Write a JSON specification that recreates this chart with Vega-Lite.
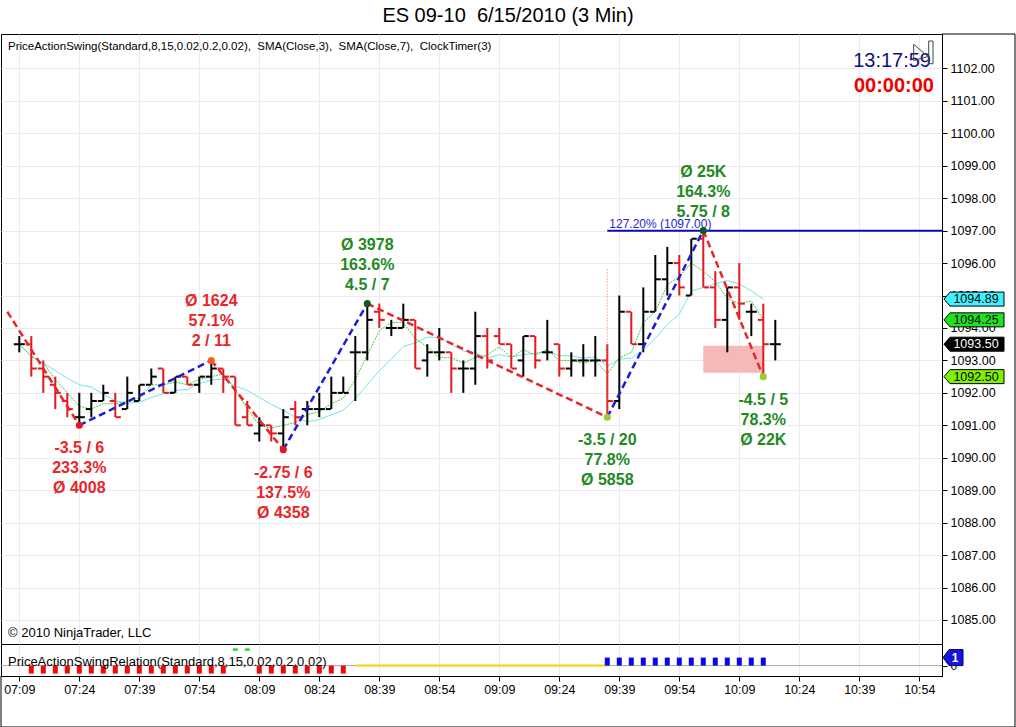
{
  "$schema": "https://vega.github.io/schema/vega-lite/v6.json",
  "background": "white",
  "padding": {"left": 0, "top": 6, "right": 0, "bottom": 0},
  "title": {"text": "ES 09-10\u00a0 6/15/2010 (3 Min)", "fontSize": 20, "fontWeight": "normal", "anchor": "middle", "offset": 7, "color": "black"},
  "spacing": 0,
  "bounds": "flush",
  "config": {
    "font": "Liberation Sans",
    "view": {"stroke": "black", "strokeWidth": 1},
    "axis": {"labelOverlap": false, "labelFlush": false}
  },
  "datasets": {
    "bars": [
      {"t":"2010-06-15T07:09","o":1093.5,"h":1093.75,"l":1093.25,"c":1093.5},
      {"t":"2010-06-15T07:12","o":1093.5,"h":1093.75,"l":1092.5,"c":1092.75},
      {"t":"2010-06-15T07:15","o":1092.75,"h":1093.0,"l":1092.0,"c":1092.5},
      {"t":"2010-06-15T07:18","o":1092.25,"h":1092.5,"l":1091.5,"c":1092.0},
      {"t":"2010-06-15T07:21","o":1091.75,"h":1092.0,"l":1091.25,"c":1091.5},
      {"t":"2010-06-15T07:24","o":1091.25,"h":1092.0,"l":1091.0,"c":1091.25},
      {"t":"2010-06-15T07:27","o":1091.5,"h":1092.0,"l":1091.25,"c":1091.75},
      {"t":"2010-06-15T07:30","o":1091.75,"h":1092.25,"l":1091.75,"c":1092.0},
      {"t":"2010-06-15T07:33","o":1091.75,"h":1092.0,"l":1091.25,"c":1091.25},
      {"t":"2010-06-15T07:36","o":1091.5,"h":1092.5,"l":1091.5,"c":1092.0},
      {"t":"2010-06-15T07:39","o":1091.75,"h":1092.25,"l":1091.75,"c":1092.25},
      {"t":"2010-06-15T07:42","o":1092.25,"h":1092.75,"l":1092.25,"c":1092.5},
      {"t":"2010-06-15T07:45","o":1092.75,"h":1092.75,"l":1092.0,"c":1092.0},
      {"t":"2010-06-15T07:48","o":1092.0,"h":1092.5,"l":1092.0,"c":1092.5},
      {"t":"2010-06-15T07:51","o":1092.5,"h":1092.5,"l":1092.25,"c":1092.25},
      {"t":"2010-06-15T07:54","o":1092.25,"h":1092.5,"l":1092.0,"c":1092.5},
      {"t":"2010-06-15T07:57","o":1092.5,"h":1093.0,"l":1092.25,"c":1092.75},
      {"t":"2010-06-15T08:00","o":1092.75,"h":1092.75,"l":1092.0,"c":1092.5},
      {"t":"2010-06-15T08:03","o":1092.5,"h":1092.5,"l":1091.0,"c":1091.0},
      {"t":"2010-06-15T08:06","o":1091.25,"h":1091.75,"l":1091.0,"c":1091.0},
      {"t":"2010-06-15T08:09","o":1090.75,"h":1091.25,"l":1090.5,"c":1091.0},
      {"t":"2010-06-15T08:12","o":1091.0,"h":1091.0,"l":1090.5,"c":1090.75},
      {"t":"2010-06-15T08:15","o":1090.75,"h":1091.5,"l":1090.25,"c":1091.25},
      {"t":"2010-06-15T08:18","o":1091.5,"h":1091.75,"l":1091.0,"c":1091.25},
      {"t":"2010-06-15T08:21","o":1091.5,"h":1091.75,"l":1091.0,"c":1091.5},
      {"t":"2010-06-15T08:24","o":1091.5,"h":1092.0,"l":1091.25,"c":1091.5},
      {"t":"2010-06-15T08:27","o":1091.5,"h":1092.5,"l":1091.5,"c":1092.0},
      {"t":"2010-06-15T08:30","o":1092.0,"h":1092.5,"l":1092.0,"c":1092.0},
      {"t":"2010-06-15T08:33","o":1093.25,"h":1093.75,"l":1091.75,"c":1093.25},
      {"t":"2010-06-15T08:36","o":1093.25,"h":1094.75,"l":1093.0,"c":1094.25},
      {"t":"2010-06-15T08:39","o":1094.5,"h":1094.75,"l":1094.0,"c":1094.25},
      {"t":"2010-06-15T08:42","o":1094.0,"h":1094.25,"l":1093.75,"c":1094.0},
      {"t":"2010-06-15T08:45","o":1094.0,"h":1094.75,"l":1094.0,"c":1094.25},
      {"t":"2010-06-15T08:48","o":1094.25,"h":1094.25,"l":1092.75,"c":1092.75},
      {"t":"2010-06-15T08:51","o":1093.0,"h":1093.5,"l":1092.5,"c":1093.25},
      {"t":"2010-06-15T08:54","o":1093.25,"h":1094.0,"l":1093.0,"c":1093.25},
      {"t":"2010-06-15T08:57","o":1093.25,"h":1093.25,"l":1092.0,"c":1092.75},
      {"t":"2010-06-15T09:00","o":1092.75,"h":1093.0,"l":1092.0,"c":1092.75},
      {"t":"2010-06-15T09:03","o":1092.75,"h":1094.5,"l":1092.25,"c":1093.75},
      {"t":"2010-06-15T09:06","o":1093.75,"h":1094.0,"l":1092.75,"c":1093.0},
      {"t":"2010-06-15T09:09","o":1093.75,"h":1094.0,"l":1093.5,"c":1093.5},
      {"t":"2010-06-15T09:12","o":1093.5,"h":1093.5,"l":1092.75,"c":1092.75},
      {"t":"2010-06-15T09:15","o":1093.0,"h":1093.75,"l":1092.5,"c":1093.75},
      {"t":"2010-06-15T09:18","o":1093.75,"h":1093.75,"l":1092.75,"c":1093.0},
      {"t":"2010-06-15T09:21","o":1093.25,"h":1094.25,"l":1093.0,"c":1093.25},
      {"t":"2010-06-15T09:24","o":1093.5,"h":1093.5,"l":1092.5,"c":1092.75},
      {"t":"2010-06-15T09:27","o":1092.75,"h":1093.25,"l":1092.5,"c":1093.0},
      {"t":"2010-06-15T09:30","o":1093.0,"h":1093.5,"l":1092.5,"c":1093.0},
      {"t":"2010-06-15T09:33","o":1093.0,"h":1093.75,"l":1092.5,"c":1093.0},
      {"t":"2010-06-15T09:36","o":1093.0,"h":1093.5,"l":1091.25,"c":1091.75},
      {"t":"2010-06-15T09:39","o":1091.75,"h":1095.0,"l":1091.5,"c":1094.5},
      {"t":"2010-06-15T09:42","o":1094.5,"h":1094.5,"l":1093.5,"c":1093.5},
      {"t":"2010-06-15T09:45","o":1093.5,"h":1095.25,"l":1093.25,"c":1094.5},
      {"t":"2010-06-15T09:48","o":1094.5,"h":1096.25,"l":1094.5,"c":1095.5},
      {"t":"2010-06-15T09:51","o":1095.5,"h":1096.5,"l":1095.0,"c":1096.0},
      {"t":"2010-06-15T09:54","o":1096.0,"h":1096.25,"l":1095.0,"c":1095.25},
      {"t":"2010-06-15T09:57","o":1095.0,"h":1096.75,"l":1095.0,"c":1096.75},
      {"t":"2010-06-15T10:00","o":1096.75,"h":1097.0,"l":1095.25,"c":1095.25},
      {"t":"2010-06-15T10:03","o":1095.25,"h":1095.75,"l":1094.0,"c":1094.25},
      {"t":"2010-06-15T10:06","o":1094.25,"h":1095.25,"l":1093.25,"c":1095.25},
      {"t":"2010-06-15T10:09","o":1095.25,"h":1096.0,"l":1094.25,"c":1094.75},
      {"t":"2010-06-15T10:12","o":1094.5,"h":1094.75,"l":1093.75,"c":1094.5},
      {"t":"2010-06-15T10:15","o":1094.25,"h":1094.75,"l":1092.5,"c":1093.5},
      {"t":"2010-06-15T10:18","o":1093.5,"h":1094.25,"l":1093.0,"c":1093.5}
    ],
    "legs": [
      {"leg":1,"dir":"down","t":"2010-06-15T07:06","p":1094.5},
      {"leg":1,"dir":"down","t":"2010-06-15T07:24","p":1091.0},
      {"leg":2,"dir":"up","t":"2010-06-15T07:24","p":1091.0},
      {"leg":2,"dir":"up","t":"2010-06-15T07:57","p":1093.0},
      {"leg":3,"dir":"down","t":"2010-06-15T07:57","p":1093.0},
      {"leg":3,"dir":"down","t":"2010-06-15T08:15","p":1090.25},
      {"leg":4,"dir":"up","t":"2010-06-15T08:15","p":1090.25},
      {"leg":4,"dir":"up","t":"2010-06-15T08:36","p":1094.75},
      {"leg":5,"dir":"down","t":"2010-06-15T08:36","p":1094.75},
      {"leg":5,"dir":"down","t":"2010-06-15T09:36","p":1091.25},
      {"leg":6,"dir":"up","t":"2010-06-15T09:36","p":1091.25},
      {"leg":6,"dir":"up","t":"2010-06-15T10:00","p":1097.0},
      {"leg":7,"dir":"down","t":"2010-06-15T10:00","p":1097.0},
      {"leg":7,"dir":"down","t":"2010-06-15T10:15","p":1092.5}
    ],
    "pivots": [
      {"t":"2010-06-15T07:24","p":1091.0,"kind":"LL","side":"low","label":["-3.5 / 6","233.3%","Ø 4008"]},
      {"t":"2010-06-15T07:57","p":1093.0,"kind":"LH","side":"high","label":["Ø 1624","57.1%","2 / 11"]},
      {"t":"2010-06-15T08:15","p":1090.25,"kind":"LL","side":"low","label":["-2.75 / 6","137.5%","Ø 4358"]},
      {"t":"2010-06-15T08:36","p":1094.75,"kind":"HH","side":"high","label":["Ø 3978","163.6%","4.5 / 7"]},
      {"t":"2010-06-15T09:36","p":1091.25,"kind":"HL","side":"low","label":["-3.5 / 20","77.8%","Ø 5858"]},
      {"t":"2010-06-15T10:00","p":1097.0,"kind":"HH","side":"high","label":["Ø 25K","164.3%","5.75 / 8"]},
      {"t":"2010-06-15T10:15","p":1092.5,"kind":"HL","side":"low","label":["-4.5 / 5","78.3%","Ø 22K"]}
    ],
    "tags": [
      {"kind":"sma7","p":1094.89},
      {"kind":"sma3","p":1094.25},
      {"kind":"last","p":1093.5},
      {"kind":"swing","p":1092.5}
    ],
    "relation": [
      {"t":"2010-06-15T07:12","v":-1,"kind":"down"},
      {"t":"2010-06-15T07:15","v":-1,"kind":"down"},
      {"t":"2010-06-15T07:18","v":-1,"kind":"down"},
      {"t":"2010-06-15T07:21","v":-1,"kind":"down"},
      {"t":"2010-06-15T07:24","v":-1,"kind":"down"},
      {"t":"2010-06-15T07:27","v":-1,"kind":"down"},
      {"t":"2010-06-15T07:30","v":-1,"kind":"down"},
      {"t":"2010-06-15T07:33","v":-1,"kind":"down"},
      {"t":"2010-06-15T07:36","v":-1,"kind":"down"},
      {"t":"2010-06-15T07:39","v":-1,"kind":"down"},
      {"t":"2010-06-15T07:42","v":-1,"kind":"down"},
      {"t":"2010-06-15T07:45","v":-1,"kind":"down"},
      {"t":"2010-06-15T07:48","v":-1,"kind":"down"},
      {"t":"2010-06-15T07:51","v":-1,"kind":"down"},
      {"t":"2010-06-15T07:54","v":-1,"kind":"down"},
      {"t":"2010-06-15T07:57","v":-1,"kind":"down"},
      {"t":"2010-06-15T08:00","v":-1,"kind":"down"},
      {"t":"2010-06-15T08:03","v":2,"kind":"swing"},
      {"t":"2010-06-15T08:06","v":2,"kind":"swing"},
      {"t":"2010-06-15T08:09","v":-1,"kind":"down"},
      {"t":"2010-06-15T08:12","v":-1,"kind":"down"},
      {"t":"2010-06-15T08:15","v":-1,"kind":"down"},
      {"t":"2010-06-15T08:18","v":-1,"kind":"down"},
      {"t":"2010-06-15T08:21","v":-1,"kind":"down"},
      {"t":"2010-06-15T08:24","v":-1,"kind":"down"},
      {"t":"2010-06-15T08:27","v":-1,"kind":"down"},
      {"t":"2010-06-15T08:30","v":-1,"kind":"down"},
      {"t":"2010-06-15T08:33","v":0,"kind":"flat"},
      {"t":"2010-06-15T08:36","v":0,"kind":"flat"},
      {"t":"2010-06-15T08:39","v":0,"kind":"flat"},
      {"t":"2010-06-15T08:42","v":0,"kind":"flat"},
      {"t":"2010-06-15T08:45","v":0,"kind":"flat"},
      {"t":"2010-06-15T08:48","v":0,"kind":"flat"},
      {"t":"2010-06-15T08:51","v":0,"kind":"flat"},
      {"t":"2010-06-15T08:54","v":0,"kind":"flat"},
      {"t":"2010-06-15T08:57","v":0,"kind":"flat"},
      {"t":"2010-06-15T09:00","v":0,"kind":"flat"},
      {"t":"2010-06-15T09:03","v":0,"kind":"flat"},
      {"t":"2010-06-15T09:06","v":0,"kind":"flat"},
      {"t":"2010-06-15T09:09","v":0,"kind":"flat"},
      {"t":"2010-06-15T09:12","v":0,"kind":"flat"},
      {"t":"2010-06-15T09:15","v":0,"kind":"flat"},
      {"t":"2010-06-15T09:18","v":0,"kind":"flat"},
      {"t":"2010-06-15T09:21","v":0,"kind":"flat"},
      {"t":"2010-06-15T09:24","v":0,"kind":"flat"},
      {"t":"2010-06-15T09:27","v":0,"kind":"flat"},
      {"t":"2010-06-15T09:30","v":0,"kind":"flat"},
      {"t":"2010-06-15T09:33","v":0,"kind":"flat"},
      {"t":"2010-06-15T09:36","v":0,"kind":"flat"},
      {"t":"2010-06-15T09:36","v":1,"kind":"up"},
      {"t":"2010-06-15T09:39","v":1,"kind":"up"},
      {"t":"2010-06-15T09:42","v":1,"kind":"up"},
      {"t":"2010-06-15T09:45","v":1,"kind":"up"},
      {"t":"2010-06-15T09:48","v":1,"kind":"up"},
      {"t":"2010-06-15T09:51","v":1,"kind":"up"},
      {"t":"2010-06-15T09:54","v":1,"kind":"up"},
      {"t":"2010-06-15T09:57","v":1,"kind":"up"},
      {"t":"2010-06-15T10:00","v":1,"kind":"up"},
      {"t":"2010-06-15T10:03","v":1,"kind":"up"},
      {"t":"2010-06-15T10:06","v":1,"kind":"up"},
      {"t":"2010-06-15T10:09","v":1,"kind":"up"},
      {"t":"2010-06-15T10:12","v":1,"kind":"up"},
      {"t":"2010-06-15T10:15","v":1,"kind":"up"}
    ]
  },
  "vconcat": [
    {
      "width": 941,
      "height": 610,
      "layer": [
        {
          "data": {"values": [{}]},
          "mark": {"type": "rect", "fill": "#f6b9b9"},
          "encoding": {
            "x": {"datum": {"year":2010,"month":6,"date":15,"hours":10,"minutes":0}, "type": "temporal"},
            "x2": {"datum": {"year":2010,"month":6,"date":15,"hours":10,"minutes":15}},
            "y": {"datum": 1093.45, "type": "quantitative"},
            "y2": {"datum": 1092.62}
          }
        },
        {
          "data": {"name": "bars"},
          "transform": [
            {"filter": {"field": "t", "lt": {"year":2010,"month":6,"date":15,"hours":10,"minutes":18}}},
            {"window": [{"op": "mean", "field": "c", "as": "sma7"}], "frame": [-6, 0], "sort": [{"field": "t"}]}
          ],
          "mark": {"type": "line", "color": "#72e3e6", "strokeWidth": 1},
          "encoding": {
            "x": {"field": "t", "type": "temporal"},
            "y": {"field": "sma7", "type": "quantitative"}
          }
        },
        {
          "data": {"name": "bars"},
          "transform": [
            {"filter": {"field": "t", "lt": {"year":2010,"month":6,"date":15,"hours":10,"minutes":18}}},
            {"window": [{"op": "mean", "field": "c", "as": "sma3"}], "frame": [-2, 0], "sort": [{"field": "t"}]}
          ],
          "mark": {"type": "line", "color": "#3fcf3f", "strokeWidth": 1, "strokeDash": [2, 1]},
          "encoding": {
            "x": {"field": "t", "type": "temporal"},
            "y": {"field": "sma3", "type": "quantitative"}
          }
        },
        {
          "data": {"name": "bars"},
          "mark": {"type": "rule", "strokeWidth": 2},
          "encoding": {
            "x": {
              "field": "t", "type": "temporal",
              "scale": {"domain": [{"year":2010,"month":6,"date":15,"hours":7,"minutes":4,"seconds":25,"milliseconds":500}, {"year":2010,"month":6,"date":15,"hours":10,"minutes":59,"seconds":40,"milliseconds":500}], "nice": false},
              "axis": {
                "values": [
                  {"year":2010,"month":6,"date":15,"hours":7,"minutes":9},
                  {"year":2010,"month":6,"date":15,"hours":7,"minutes":24},
                  {"year":2010,"month":6,"date":15,"hours":7,"minutes":39},
                  {"year":2010,"month":6,"date":15,"hours":7,"minutes":54},
                  {"year":2010,"month":6,"date":15,"hours":8,"minutes":9},
                  {"year":2010,"month":6,"date":15,"hours":8,"minutes":24},
                  {"year":2010,"month":6,"date":15,"hours":8,"minutes":39},
                  {"year":2010,"month":6,"date":15,"hours":8,"minutes":54},
                  {"year":2010,"month":6,"date":15,"hours":9,"minutes":9},
                  {"year":2010,"month":6,"date":15,"hours":9,"minutes":24},
                  {"year":2010,"month":6,"date":15,"hours":9,"minutes":39},
                  {"year":2010,"month":6,"date":15,"hours":9,"minutes":54},
                  {"year":2010,"month":6,"date":15,"hours":10,"minutes":9},
                  {"year":2010,"month":6,"date":15,"hours":10,"minutes":24},
                  {"year":2010,"month":6,"date":15,"hours":10,"minutes":39},
                  {"year":2010,"month":6,"date":15,"hours":10,"minutes":54}
                ],
                "tickCount": 40,
                "labels": false, "ticks": false, "domain": false, "grid": true, "gridColor": "#ebebeb", "title": null
              }
            },
            "y": {
              "field": "l", "type": "quantitative",
              "scale": {"domain": [1084.26, 1103.06], "nice": false, "zero": false},
              "axis": {
                "orient": "right",
                "values": [1085,1086,1087,1088,1089,1090,1091,1092,1093,1094,1095,1096,1097,1098,1099,1100,1101,1102],
                "tickCount": 40,
                "format": ".2f", "title": null, "grid": true, "gridColor": "#ebebeb",
                "labelFontSize": 12.5, "labelColor": "black", "tickColor": "black", "tickSize": 5,
                "domainColor": "black", "labelPadding": 3, "labelFlush": false, "labelOverlap": false
              }
            },
            "y2": {"field": "h"},
            "color": {"condition": {"test": "datum.c < datum.o", "value": "#e3171d"}, "value": "black"}
          }
        },
        {
          "data": {"name": "bars"},
          "mark": {"type": "tick", "orient": "horizontal", "size": 5, "thickness": 2, "xOffset": -3, "opacity": 1},
          "encoding": {
            "x": {"field": "t", "type": "temporal"},
            "y": {"field": "o", "type": "quantitative"},
            "color": {"condition": {"test": "datum.c < datum.o", "value": "#e3171d"}, "value": "black"}
          }
        },
        {
          "data": {"name": "bars"},
          "mark": {"type": "tick", "orient": "horizontal", "size": 5, "thickness": 2, "xOffset": 3, "opacity": 1},
          "encoding": {
            "x": {"field": "t", "type": "temporal"},
            "y": {"field": "c", "type": "quantitative"},
            "color": {"condition": {"test": "datum.c < datum.o", "value": "#e3171d"}, "value": "black"}
          }
        },
        {
          "data": {"values": [{}]},
          "mark": {"type": "rule", "color": "#ff7048", "strokeWidth": 1, "strokeDash": [1, 2]},
          "encoding": {
            "x": {"datum": {"year":2010,"month":6,"date":15,"hours":9,"minutes":36}, "type": "temporal"},
            "y": {"datum": 1095.8, "type": "quantitative"},
            "y2": {"datum": 1091.25}
          }
        },
        {
          "data": {"name": "legs"},
          "mark": {"type": "line", "strokeWidth": 2.5, "strokeDash": [7, 4]},
          "encoding": {
            "x": {"field": "t", "type": "temporal"},
            "y": {"field": "p", "type": "quantitative"},
            "detail": {"field": "leg"},
            "color": {"condition": {"test": "datum.dir === 'up'", "value": "#1c1cd6"}, "value": "#e8262a"}
          }
        },
        {
          "data": {"values": [{}]},
          "mark": {"type": "rule", "color": "#0a0ab4", "strokeWidth": 2},
          "encoding": {
            "x": {"datum": {"year":2010,"month":6,"date":15,"hours":9,"minutes":36}, "type": "temporal"},
            "x2": {"datum": {"year":2010,"month":6,"date":15,"hours":10,"minutes":59,"seconds":40,"milliseconds":500}},
            "y": {"datum": 1097.0, "type": "quantitative"}
          }
        },
        {
          "data": {"values": [{}]},
          "mark": {"type": "text", "text": "127.20% (1097.00)", "align": "left", "baseline": "alphabetic", "dx": 2, "dy": -3, "fontSize": 12, "color": "#2424d4"},
          "encoding": {
            "x": {"datum": {"year":2010,"month":6,"date":15,"hours":9,"minutes":36}, "type": "temporal"},
            "y": {"datum": 1097.0, "type": "quantitative"}
          }
        },
        {
          "data": {"name": "pivots"},
          "mark": {"type": "point", "filled": true, "size": 50, "opacity": 1},
          "encoding": {
            "x": {"field": "t", "type": "temporal"},
            "y": {"field": "p", "type": "quantitative"},
            "color": {
              "condition": [
                {"test": "datum.kind === 'LL'", "value": "#e8141c"},
                {"test": "datum.kind === 'LH'", "value": "#ff5a1e"},
                {"test": "datum.kind === 'HH'", "value": "#0b5d1e"}
              ],
              "value": "#9acd32"
            }
          }
        },
        {
          "data": {"name": "pivots"},
          "transform": [{"filter": "datum.side === 'high'"}],
          "mark": {"type": "text", "align": "center", "baseline": "top", "dy": -67, "fontSize": 16, "fontWeight": "bold", "lineHeight": 20},
          "encoding": {
            "x": {"field": "t", "type": "temporal"},
            "y": {"field": "p", "type": "quantitative"},
            "text": {"field": "label"},
            "color": {"condition": {"test": "datum.kind === 'HH' || datum.kind === 'HL'", "value": "#1f8a1f"}, "value": "#e8262a"}
          }
        },
        {
          "data": {"name": "pivots"},
          "transform": [{"filter": "datum.side === 'low'"}],
          "mark": {"type": "text", "align": "center", "baseline": "top", "dy": 15, "fontSize": 16, "fontWeight": "bold", "lineHeight": 20},
          "encoding": {
            "x": {"field": "t", "type": "temporal"},
            "y": {"field": "p", "type": "quantitative"},
            "text": {"field": "label"},
            "color": {"condition": {"test": "datum.kind === 'HH' || datum.kind === 'HL'", "value": "#1f8a1f"}, "value": "#e8262a"}
          }
        },
        {
          "data": {"name": "tags"},
          "mark": {"type": "point", "shape": "M-1,0L-0.8,-0.2333L1,-0.2333L1,0.2333L-0.8,0.2333Z", "size": 3600, "filled": true, "stroke": "black", "strokeWidth": 1, "opacity": 1, "xOffset": 32},
          "encoding": {
            "x": {"datum": {"year":2010,"month":6,"date":15,"hours":10,"minutes":59,"seconds":40,"milliseconds":500}, "type": "temporal"},
            "y": {"field": "p", "type": "quantitative"},
            "fill": {
              "condition": [
                {"test": "datum.kind === 'sma7'", "value": "#40f2ff"},
                {"test": "datum.kind === 'sma3'", "value": "#1ee41e"},
                {"test": "datum.kind === 'last'", "value": "black"}
              ],
              "value": "#80f000"
            }
          }
        },
        {
          "data": {"name": "tags"},
          "mark": {"type": "text", "align": "center", "baseline": "middle", "dx": 34, "fontSize": 12.5},
          "encoding": {
            "x": {"datum": {"year":2010,"month":6,"date":15,"hours":10,"minutes":59,"seconds":40,"milliseconds":500}, "type": "temporal"},
            "y": {"field": "p", "type": "quantitative"},
            "text": {"field": "p", "format": ".2f"},
            "color": {"condition": {"test": "datum.kind === 'last'", "value": "white"}, "value": "black"}
          }
        },
        {
          "data": {"values": [{}]},
          "mark": {"type": "text", "text": "PriceActionSwing(Standard,8,15,0.02,0.2,0.02),\u00a0 SMA(Close,3),\u00a0 SMA(Close,7),\u00a0 ClockTimer(3)", "align": "left", "baseline": "middle", "dx": 7, "fontSize": 11.5, "color": "black"},
          "encoding": {
            "x": {"datum": {"year":2010,"month":6,"date":15,"hours":7,"minutes":4,"seconds":25,"milliseconds":500}, "type": "temporal"},
            "y": {"datum": 1102.663, "type": "quantitative"}
          }
        },
        {
          "data": {"values": [{}]},
          "mark": {"type": "text", "text": "13:17:59", "align": "right", "baseline": "middle", "dx": -11, "fontSize": 20, "color": "#10107c"},
          "encoding": {
            "x": {"datum": {"year":2010,"month":6,"date":15,"hours":10,"minutes":59,"seconds":40,"milliseconds":500}, "type": "temporal"},
            "y": {"datum": 1102.216, "type": "quantitative"}
          }
        },
        {
          "data": {"values": [{}]},
          "mark": {"type": "point", "shape": "M-0.93,-0.77L0.5,0.45L-0.93,0.85Z M0.57,-1.1L1,-1.1L1,1.17L0.57,1.17Z", "size": 400, "filled": false, "stroke": "#444444", "strokeWidth": 1, "opacity": 1, "xOffset": -19},
          "encoding": {
            "x": {"datum": {"year":2010,"month":6,"date":15,"hours":10,"minutes":59,"seconds":40,"milliseconds":500}, "type": "temporal"},
            "y": {"datum": 1102.505, "type": "quantitative"}
          }
        },
        {
          "data": {"values": [{}]},
          "mark": {"type": "text", "text": "00:00:00", "align": "right", "baseline": "middle", "dx": -8, "fontSize": 20, "fontWeight": "bold", "color": "#f00000"},
          "encoding": {
            "x": {"datum": {"year":2010,"month":6,"date":15,"hours":10,"minutes":59,"seconds":40,"milliseconds":500}, "type": "temporal"},
            "y": {"datum": 1101.445, "type": "quantitative"}
          }
        },
        {
          "data": {"values": [{}]},
          "mark": {"type": "text", "text": "© 2010 NinjaTrader, LLC", "align": "left", "baseline": "middle", "dx": 7, "fontSize": 13, "color": "black"},
          "encoding": {
            "x": {"datum": {"year":2010,"month":6,"date":15,"hours":7,"minutes":4,"seconds":25,"milliseconds":500}, "type": "temporal"},
            "y": {"datum": 1084.6, "type": "quantitative"}
          }
        },
        {
          "data": {"values": [{}]},
          "mark": {"type": "rule", "color": "black", "strokeWidth": 1},
          "encoding": {
            "x": {"datum": {"year":2010,"month":6,"date":15,"hours":10,"minutes":59,"seconds":40,"milliseconds":500}, "type": "temporal"},
            "x2": {"datum": {"year":2010,"month":6,"date":15,"hours":11,"minutes":17,"seconds":55,"milliseconds":500}},
            "y": {"datum": 1103.06, "type": "quantitative"}
          }
        },
        {
          "data": {"values": [{}]},
          "mark": {"type": "rule", "color": "black", "strokeWidth": 1},
          "encoding": {
            "x": {"datum": {"year":2010,"month":6,"date":15,"hours":11,"minutes":17,"seconds":55,"milliseconds":500}, "type": "temporal"},
            "y": {"datum": 1103.06, "type": "quantitative"},
            "y2": {"datum": 1084.26}
          }
        }
      ]
    },
    {
      "width": 941,
      "height": 32,
      "layer": [
        {
          "data": {"values": [{}]},
          "mark": {"type": "rule", "color": "#a8a8a8", "strokeWidth": 1},
          "encoding": {
            "x": {"datum": {"year":2010,"month":6,"date":15,"hours":7,"minutes":4,"seconds":25,"milliseconds":500}, "type": "temporal"},
            "x2": {"datum": {"year":2010,"month":6,"date":15,"hours":10,"minutes":59,"seconds":40,"milliseconds":500}},
            "y": {"datum": 0, "type": "quantitative"}
          }
        },
        {
          "data": {"name": "relation"},
          "transform": [{"filter": "datum.kind === 'flat'"}],
          "mark": {"type": "line", "color": "#ffd000", "strokeWidth": 2},
          "encoding": {
            "x": {"field": "t", "type": "temporal"},
            "y": {"field": "v", "type": "quantitative"}
          }
        },
        {
          "data": {"name": "relation"},
          "transform": [{"filter": "datum.kind === 'up' || datum.kind === 'down'"}],
          "mark": {"type": "rule", "strokeWidth": 5},
          "encoding": {
            "x": {
              "field": "t", "type": "temporal",
              "scale": {"domain": [{"year":2010,"month":6,"date":15,"hours":7,"minutes":4,"seconds":25,"milliseconds":500}, {"year":2010,"month":6,"date":15,"hours":10,"minutes":59,"seconds":40,"milliseconds":500}], "nice": false},
              "axis": {
                "orient": "bottom",
                "values": [
                  {"year":2010,"month":6,"date":15,"hours":7,"minutes":9},
                  {"year":2010,"month":6,"date":15,"hours":7,"minutes":24},
                  {"year":2010,"month":6,"date":15,"hours":7,"minutes":39},
                  {"year":2010,"month":6,"date":15,"hours":7,"minutes":54},
                  {"year":2010,"month":6,"date":15,"hours":8,"minutes":9},
                  {"year":2010,"month":6,"date":15,"hours":8,"minutes":24},
                  {"year":2010,"month":6,"date":15,"hours":8,"minutes":39},
                  {"year":2010,"month":6,"date":15,"hours":8,"minutes":54},
                  {"year":2010,"month":6,"date":15,"hours":9,"minutes":9},
                  {"year":2010,"month":6,"date":15,"hours":9,"minutes":24},
                  {"year":2010,"month":6,"date":15,"hours":9,"minutes":39},
                  {"year":2010,"month":6,"date":15,"hours":9,"minutes":54},
                  {"year":2010,"month":6,"date":15,"hours":10,"minutes":9},
                  {"year":2010,"month":6,"date":15,"hours":10,"minutes":24},
                  {"year":2010,"month":6,"date":15,"hours":10,"minutes":39},
                  {"year":2010,"month":6,"date":15,"hours":10,"minutes":54}
                ],
                "tickCount": 40,
                "format": "%H:%M", "title": null, "grid": true, "gridColor": "#ebebeb",
                "labelFontSize": 12.5, "labelColor": "black", "tickColor": "black", "tickSize": 5,
                "domainColor": "black", "labelPadding": 2, "labelFlush": false, "labelOverlap": false
              }
            },
            "y": {
              "field": "v", "type": "quantitative",
              "scale": {"domain": [-1.3, 2.7], "nice": false, "zero": false},
              "axis": {
                "orient": "right", "values": [0], "format": "d", "title": null, "grid": false,
                "labelFontSize": 12, "labelColor": "black", "tickColor": "black", "tickSize": 5,
                "domainColor": "black", "labelPadding": 3
              }
            },
            "y2": {"datum": 0},
            "color": {"condition": {"test": "datum.kind === 'up'", "value": "#0808ee"}, "value": "#ee0a0a"}
          }
        },
        {
          "data": {"name": "relation"},
          "transform": [{"filter": "datum.kind === 'swing'"}],
          "mark": {"type": "tick", "orient": "horizontal", "size": 5, "thickness": 2.5, "color": "#22dd22", "opacity": 1},
          "encoding": {
            "x": {"field": "t", "type": "temporal"},
            "y": {"field": "v", "type": "quantitative"}
          }
        },
        {
          "data": {"values": [{}]},
          "mark": {"type": "text", "text": "PriceActionSwingRelation(Standard,8,15,0.02,0.2,0.02)", "align": "left", "baseline": "alphabetic", "dx": 7, "fontSize": 13, "color": "black"},
          "encoding": {
            "x": {"datum": {"year":2010,"month":6,"date":15,"hours":7,"minutes":4,"seconds":25,"milliseconds":500}, "type": "temporal"},
            "y": {"datum": 0, "type": "quantitative"}
          }
        },
        {
          "data": {"values": [{}]},
          "mark": {"type": "point", "shape": "M-1,0L-0.4,-0.8L1,-0.8L1,0.8L-0.4,0.8Z", "size": 400, "filled": true, "fill": "#1414dc", "stroke": "#000060", "strokeWidth": 1, "opacity": 1, "xOffset": 11},
          "encoding": {
            "x": {"datum": {"year":2010,"month":6,"date":15,"hours":10,"minutes":59,"seconds":40,"milliseconds":500}, "type": "temporal"},
            "y": {"datum": 1, "type": "quantitative"}
          }
        },
        {
          "data": {"values": [{}]},
          "mark": {"type": "text", "text": "1", "align": "center", "baseline": "middle", "dx": 13, "fontSize": 12, "fontWeight": "bold", "color": "white"},
          "encoding": {
            "x": {"datum": {"year":2010,"month":6,"date":15,"hours":10,"minutes":59,"seconds":40,"milliseconds":500}, "type": "temporal"},
            "y": {"datum": 1, "type": "quantitative"}
          }
        },
        {
          "data": {"values": [{}]},
          "mark": {"type": "rule", "color": "black", "strokeWidth": 1},
          "encoding": {
            "x": {"datum": {"year":2010,"month":6,"date":15,"hours":11,"minutes":17,"seconds":55,"milliseconds":500}, "type": "temporal"},
            "y": {"datum": 2.7, "type": "quantitative"},
            "y2": {"datum": -7.675}
          }
        },
        {
          "data": {"values": [{}]},
          "mark": {"type": "rule", "color": "black", "strokeWidth": 1},
          "encoding": {
            "x": {"datum": {"year":2010,"month":6,"date":15,"hours":7,"minutes":4,"seconds":25,"milliseconds":500}, "type": "temporal"},
            "x2": {"datum": {"year":2010,"month":6,"date":15,"hours":11,"minutes":17,"seconds":55,"milliseconds":500}},
            "y": {"datum": -7.675, "type": "quantitative"}
          }
        },
        {
          "data": {"values": [{}]},
          "mark": {"type": "rule", "color": "black", "strokeWidth": 1},
          "encoding": {
            "x": {"datum": {"year":2010,"month":6,"date":15,"hours":7,"minutes":4,"seconds":25,"milliseconds":500}, "type": "temporal"},
            "y": {"datum": -1.3, "type": "quantitative"},
            "y2": {"datum": -7.675}
          }
        }
      ]
    }
  ]
}
